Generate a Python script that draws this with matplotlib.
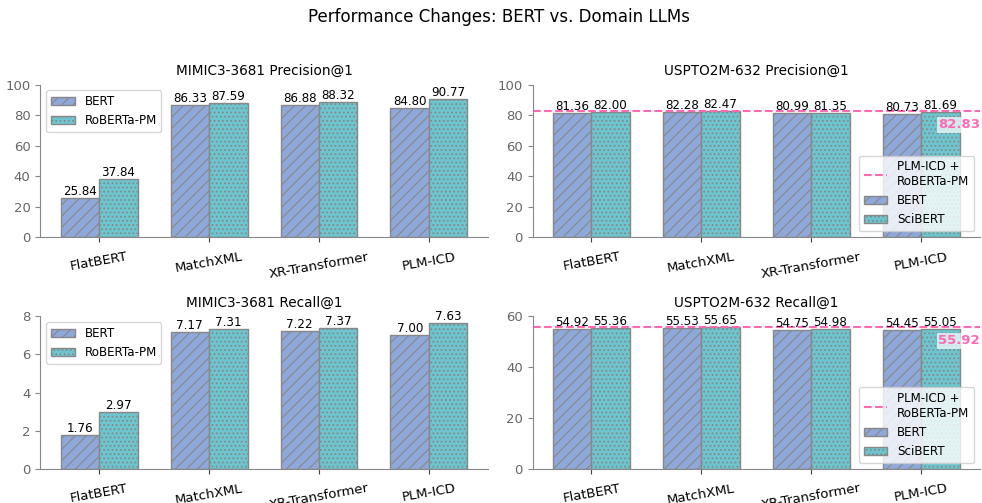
import matplotlib
matplotlib.use("Agg")
import matplotlib.pyplot as plt
import numpy as np

methods = ["FlatBERT", "MatchXML", "XR-Transformer", "PLM-ICD"]

mimic_p_bert = [25.84, 86.33, 86.88, 84.80]
mimic_p_rob = [37.84, 87.59, 88.32, 90.77]
mimic_r_bert = [1.76, 7.17, 7.22, 7.00]
mimic_r_rob = [2.97, 7.31, 7.37, 7.63]

uspto_p_bert = [81.36, 82.28, 80.99, 80.73]
uspto_p_sci = [82.00, 82.47, 81.35, 81.69]
uspto_r_bert = [54.92, 55.53, 54.75, 54.45]
uspto_r_sci = [55.36, 55.65, 54.98, 55.05]

ref_p = 82.83
ref_r = 55.92

titles = ["MIMIC3-3681 Precision@1", "USPTO2M-632 Precision@1",
          "MIMIC3-3681 Recall@1", "USPTO2M-632 Recall@1"]

c_bert = "#8ea8da"
c_dom = "#6cc6d0"
c_ref = "#ff69b4"
gray = "#888888"

plt.rcParams["hatch.color"] = "#888888"
plt.rcParams["hatch.linewidth"] = 0.8

fig, axes = plt.subplots(2, 2, figsize=(9.82, 5.03), dpi=100)
fig.subplots_adjust(left=0.041, right=0.998, top=0.832, bottom=0.068, wspace=0.10, hspace=0.52)
fig.suptitle("Performance Changes: BERT vs. Domain LLMs", fontsize=12, x=0.508, y=0.985)

panels = [
    (axes[0, 0], mimic_p_bert, mimic_p_rob, "RoBERTa-PM", None, 100, 20),
    (axes[0, 1], uspto_p_bert, uspto_p_sci, "SciBERT", ref_p, 100, 20),
    (axes[1, 0], mimic_r_bert, mimic_r_rob, "RoBERTa-PM", None, 8, 2),
    (axes[1, 1], uspto_r_bert, uspto_r_sci, "SciBERT", ref_r, 60, 20),
]

x = np.arange(len(methods))
w = 0.35
for i, (ax, bvals, dvals, dname, ref, ytop, ystep) in enumerate(panels):
    b1 = ax.bar(x - w / 2, bvals, w, color=c_bert, edgecolor=gray, hatch="///", label="BERT", linewidth=1)
    b2 = ax.bar(x + w / 2, dvals, w, color=c_dom, edgecolor=gray, hatch="....", label=dname, linewidth=1)
    for bars in (b1, b2):
        for r in bars:
            ax.text(r.get_x() + r.get_width() / 2, r.get_height(), f"{r.get_height():.2f}",
                    ha="center", va="bottom", fontsize=8.6)
    ax.set_ylim(0, ytop)
    ax.set_yticks(np.arange(0, ytop + 0.001, ystep))
    ax.set_xticks(x)
    ax.set_xticklabels(methods, rotation=10, fontsize=9.5)
    ax.set_title(titles[i], fontsize=9.8, pad=7)
    for s in ("top", "right"):
        ax.spines[s].set_visible(False)
    for s in ("left", "bottom"):
        ax.spines[s].set_color(gray)
    ax.tick_params(axis="y", colors=gray, labelsize=9.5, labelcolor="#666666")
    ax.tick_params(axis="x", colors="#444444", labelcolor="black", pad=6)
    if ref is not None:
        ax.axhline(ref, color=c_ref, linestyle="--", linewidth=1.5, label="PLM-ICD +\nRoBERTa-PM")
        ax.text(1.0, ref - ytop * 0.05, f"{ref:.2f}", transform=ax.get_yaxis_transform(),
                ha="right", va="top", color=c_ref, fontsize=9.5, fontweight="bold",
                bbox=dict(facecolor="white", edgecolor="none", alpha=0.7, pad=1))
        ax.legend(loc="lower right", fontsize=8.6, framealpha=0.8)
    else:
        ax.legend(loc="upper left", fontsize=8.6)

fig.savefig("out.png", dpi=100)
